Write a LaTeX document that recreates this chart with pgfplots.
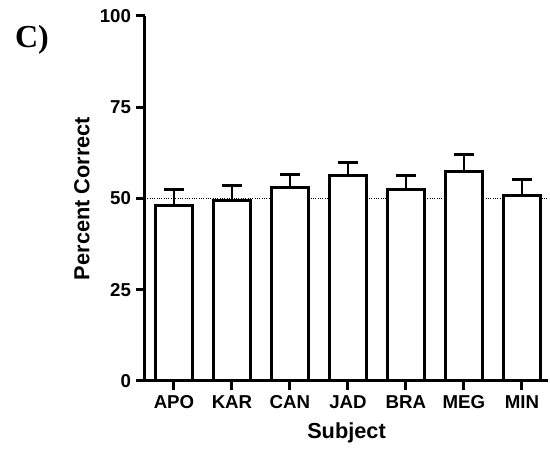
\documentclass[border=0pt]{standalone}
\usepackage{fontspec}
\setmainfont{Liberation Sans}
\newfontfamily\serifb{Liberation Serif}
\usepackage{pgfplots}
\pgfplotsset{compat=1.18}
\begin{document}
\begin{tikzpicture}
\useasboundingbox (-108.75pt,-51pt) rectangle (303.75pt,285.75pt);
\begin{axis}[
 scale only axis, width=302.25pt, height=273.75pt,
 xmin=-0.5, xmax=6.45, ymin=0, ymax=100,
 axis x line*=bottom, axis y line*=left,
 axis line style={-, line width=2.25pt, black},
 xtick={0,...,6}, xticklabels={APO,KAR,CAN,JAD,BRA,MEG,MIN},
 ytick={0,25,50,75,100},
 tick align=outside, major tick length=7pt,
 tick style={line width=2.25pt, black},
 yticklabel style={font=\bfseries\fontsize{14}{14}\selectfont},
 xticklabel style={font=\bfseries\fontsize{14}{14}\selectfont, anchor=north, text height=10.2pt, text depth=0pt},
 /pgf/number format/assume math mode=true,
 xlabel={Subject}, ylabel={Percent Correct},
 every axis x label/.style={at={(axis description cs:0.5,0)}, yshift=-43.5pt, anchor=base, font=\bfseries\fontsize{16.3}{16.3}\selectfont},
 every axis y label/.style={at={(axis description cs:0,0.5)}, xshift=-47.25pt, rotate=90, anchor=center, font=\bfseries\fontsize{16.3}{16.3}\selectfont},
 clip=false,
]
\addplot[black, densely dotted, line width=0.75pt] coordinates {(-0.5,50) (6.45,50)};
\addplot[ybar, bar width=27.5pt, fill=white, draw=black, line width=2.25pt,
  error bars/.cd, y dir=plus, y explicit,
  error bar style={line width=1.8pt, black},
  error mark options={rotate=90, line width=2.4pt, mark size=7.5pt, black}]
  coordinates {(0,48.0) +- (0,4.5) (1,49.5) +- (0,4.0) (2,53.1) +- (0,3.5)
   (3,56.2) +- (0,3.6) (4,52.6) +- (0,3.8) (5,57.5) +- (0,4.6) (6,50.8) +- (0,4.5)};
\end{axis}
\node[font=\serifb\bfseries\fontsize{24}{24}\selectfont] at (-84.75pt,256pt) {C)};
\end{tikzpicture}
\end{document}
